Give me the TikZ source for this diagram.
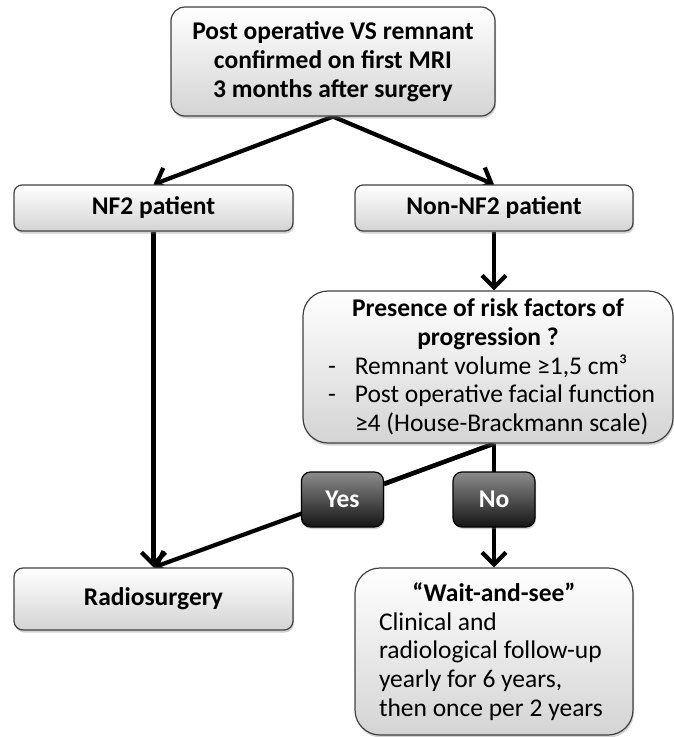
\documentclass[tikz,border=0pt]{standalone}
\usepackage{fontspec}
\setmainfont{Carlito}
\usetikzlibrary{arrows.meta,shadows}
\pgfdeclarelayer{bg}
\pgfsetlayers{bg,main}
\begin{document}
\begin{tikzpicture}[x=1pt,y=-1pt,
  txt/.style={font=\fontsize{25.5}{28.8}\selectfont},
  lightbox/.style={draw=black!75, line width=1.2pt, top color=white, bottom color=black!17,
    drop shadow={shadow xshift=1pt,shadow yshift=-2.5pt,opacity=0.35},
    inner sep=0pt, txt, align=center},
  darkbox/.style={draw=black, line width=1.2pt, rounded corners=9pt, top color=black!45,
    bottom color=black!92, text=white, font=\fontsize{25.5}{28.8}\selectfont\bfseries,
    minimum width=82pt, minimum height=55pt, inner sep=0pt,
    drop shadow={shadow xshift=1pt,shadow yshift=-2pt,opacity=0.35}},
  arr/.style={line width=4.2pt, -{Straight Barb[length=12pt,width=24pt]}},
  link/.style={line width=4.2pt}
]
\useasboundingbox (0,0) rectangle (674,737);

\node[lightbox, rounded corners=14pt, minimum width=324pt, minimum height=109pt] (top) at (333,61.5)
  {\bfseries Post operative VS remnant\\ \bfseries confirmed on first MRI\\ \bfseries 3 months after surgery};
\node[lightbox, rounded corners=8pt, minimum width=279pt, minimum height=46pt] (nf2) at (153.5,208)
  {\bfseries NF2 patient};
\node[lightbox, rounded corners=8pt, minimum width=278pt, minimum height=46pt] (non) at (494,208)
  {\bfseries Non-NF2 patient};
\node[lightbox, rounded corners=25pt, minimum width=370pt, minimum height=152pt] (risk) at (488,367)
  {\parbox{360pt}{\centering\bfseries Presence of risk factors of\\ progression ?\par
   \raggedright\mdseries
   \hspace*{20pt}-\hspace*{19pt}Remnant volume ≥1,5 cm³\\
   \hspace*{20pt}-\hspace*{19pt}Post operative facial function\\
   \hspace*{47pt}≥4 (House-Brackmann scale)}};
\node[darkbox] (yes) at (342.5,499.5) {Yes};
\node[darkbox] (no) at (494,499.5) {No};
\node[lightbox, rounded corners=9pt, minimum width=279pt, minimum height=62pt] (radio) at (153.5,599)
  {\bfseries Radiosurgery};
\node[lightbox, rounded corners=25pt, minimum width=278pt, minimum height=167pt] (wait) at (494,651.5)
  {\parbox{230pt}{\centering\bfseries “Wait-and-see”\par
   \raggedright\mdseries Clinical and\\ radiological follow-up\\ yearly for 6 years,\\ then once per 2 years}};

\coordinate (split) at (risk.south -| no.center);

\begin{pgfonlayer}{bg}
  \draw[arr, line join=round] (top.south) -- (nf2.north);
  \draw[arr, line join=round] (top.south) -- (non.north);
  \draw[arr] (non.south) -- (non.south |- risk.north);
  \draw[arr] (nf2.south) -- (radio.north);
  \draw[link] (split) -- (yes);
  \draw[arr] (split) -- (radio.north);
  \draw[arr] (split) -- (wait.north);
\end{pgfonlayer}
\end{tikzpicture}
\end{document}
